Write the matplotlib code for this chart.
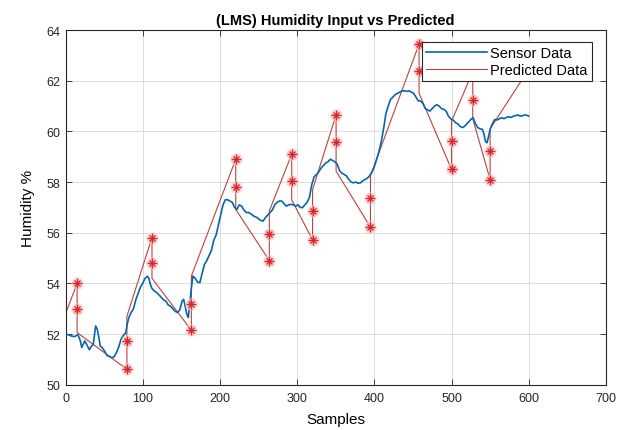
import numpy as np
import matplotlib
matplotlib.use("Agg")
import matplotlib.pyplot as plt

# sensor trace (sample index, humidity %)
sensor_x = [0, 4, 8, 12, 16, 19, 21, 23, 25, 28, 31, 33, 36, 38, 39, 41, 43, 45, 48, 51,
            54, 57, 60, 63, 66, 69, 72, 75, 78, 80, 82, 85, 88, 91, 94, 97, 100, 103, 106, 108,
            110, 112, 115, 118, 121, 124, 127, 130, 133, 136, 139, 142, 145, 148, 151, 153, 155, 157, 159, 161,
            163, 165, 168, 171, 174, 177, 180, 183, 186, 189, 192, 195, 198, 201, 204, 207, 210, 213, 216, 219,
            222, 225, 228, 231, 234, 237, 240, 244, 248, 252, 256, 259, 262, 265, 268, 271, 274, 277, 280, 283,
            286, 289, 292, 295, 298, 301, 304, 307, 310, 313, 316, 319, 322, 325, 328, 331, 334, 337, 340, 343,
            346, 349, 352, 355, 358, 361, 364, 367, 370, 373, 376, 379, 382, 385, 388, 391, 394, 397, 400, 403,
            406, 409, 412, 415, 418, 421, 424, 427, 430, 433, 436, 439, 442, 445, 448, 451, 454, 457, 460, 463,
            466, 469, 472, 475, 478, 481, 484, 487, 490, 493, 496, 499, 502, 505, 508, 511, 514, 517, 520, 523,
            526, 528, 531, 534, 537, 540, 542, 544, 546, 548, 550, 553, 556, 559, 562, 565, 568, 571, 574, 577,
            580, 583, 586, 589, 592, 595, 598, 600]
sensor_y = [52.0, 51.97, 51.92, 51.9, 51.98, 51.75, 51.47, 51.6, 51.73, 51.55, 51.38, 51.5, 51.6, 52.1, 52.32, 52.2, 51.9, 51.53, 51.45, 51.3,
            51.15, 51.12, 51.07, 51.1, 51.27, 51.5, 51.8, 51.95, 52.05, 52.4, 52.65, 52.85, 53.0, 53.35, 53.6, 53.85, 54.0, 54.2, 54.28, 54.2,
            53.95, 53.8, 53.7, 53.64, 53.55, 53.45, 53.35, 53.3, 53.15, 53.1, 53.0, 52.9, 52.85, 52.95, 53.3, 53.37, 53.1, 52.8, 52.65, 53.2,
            53.8, 54.29, 54.2, 54.05, 54.03, 54.4, 54.75, 54.9, 55.1, 55.3, 55.7, 55.9, 56.3, 56.7, 57.1, 57.3, 57.3, 57.25, 57.2, 57.0,
            56.92, 57.1, 57.05, 56.9, 56.8, 56.8, 56.75, 56.65, 56.6, 56.5, 56.46, 56.6, 56.7, 56.8, 56.9, 57.1, 57.2, 57.25, 57.25, 57.15,
            57.05, 57.1, 57.12, 57.1, 57.05, 57.1, 57.0, 56.99, 57.1, 57.2, 57.4, 57.9, 58.2, 58.3, 58.4, 58.55, 58.65, 58.75, 58.8, 58.9,
            58.85, 58.8, 58.7, 58.45, 58.35, 58.3, 58.24, 58.1, 58.0, 57.97, 58.0, 57.95, 57.97, 58.05, 58.1, 58.15, 58.25, 58.4, 58.6, 58.9,
            59.2, 59.6, 60.1, 60.7, 61.0, 61.26, 61.35, 61.45, 61.5, 61.55, 61.6, 61.6, 61.58, 61.6, 61.55, 61.5, 61.35, 61.2, 61.2, 61.1,
            60.9, 60.85, 60.8, 60.9, 61.0, 61.05, 61.0, 60.9, 60.87, 60.8, 60.6, 60.5, 60.45, 60.35, 60.3, 60.2, 60.15, 60.2, 60.3, 60.4,
            60.5, 60.54, 60.3, 60.15, 60.1, 60.08, 59.9, 59.6, 59.55, 59.8, 60.08, 60.3, 60.47, 60.45, 60.5, 60.54, 60.5, 60.55, 60.58, 60.55,
            60.6, 60.62, 60.65, 60.6, 60.62, 60.65, 60.63, 60.6]

# predicted (LMS) trace: at each block edge -> extreme, star, restart
pred_x = [0, 15, 15, 15, 79.5, 79.5, 79.5, 112, 112, 112, 163, 163, 163,
          220.5, 220.5, 220.5, 264, 264, 264, 293, 293, 293, 320, 320, 320,
          350.5, 350.5, 350.5, 395, 395, 395, 458, 458, 458, 500, 500, 500,
          527.5, 527.5, 527.5, 550, 550, 550, 600]
pred_y = [52.8, 54.0, 52.98, 52.06, 50.61, 51.73, 52.7, 55.81, 54.82, 54.2, 52.15, 53.2, 54.29,
          58.9, 57.8, 56.92, 54.9, 55.94, 56.86, 59.1, 58.05, 57.3, 55.72, 56.86, 57.7,
          60.65, 59.57, 58.43, 56.22, 57.37, 58.25, 63.45, 62.4, 61.5, 58.5, 59.63, 60.4,
          62.35, 61.22, 60.5, 58.1, 59.22, 60.1, 62.45]

plt.rcParams['font.family'] = ['Liberation Sans', 'DejaVu Sans']

fig = plt.figure(figsize=(6.24, 4.31), dpi=100)
ax = fig.add_axes([0.105, 0.105, 0.866, 0.823])

ax.plot(sensor_x, sensor_y, color='#0a64aa', lw=1.2, label='Sensor Data', zorder=3)
ax.plot(pred_x, pred_y, color='#B8453A', lw=0.8, label='Predicted Data', zorder=2)

# asterisks on extreme and middle points of each block
star_idx = [i for i in range(1, len(pred_x) - 1) if i % 3 != 0]
sx = [pred_x[i] for i in star_idx]
sy = [pred_y[i] for i in star_idx]
ax.plot(sx, sy, ls='none', marker='o', ms=9, mfc='#f7c9c9', mec='none', alpha=0.7, zorder=3.5)
for m in ['+', 'x']:
    ax.plot(sx, sy, ls='none', marker=m, ms=6.5 if m == '+' else 5, mec='#d8262a', mew=1.0, zorder=4)

ax.set_xlim(0, 700)
ax.set_ylim(50, 64)
ax.set_xticks(range(0, 701, 100))
ax.set_yticks(range(50, 65, 2))
ax.tick_params(direction='in', length=4, width=0.6, labelsize=9, colors='#262626',
               top=True, right=True, pad=4)
ax.tick_params(axis='x', pad=5)
for s in ax.spines.values():
    s.set_color('#262626')
    s.set_linewidth(0.8)
ax.grid(True, color='#dcdcdc', lw=0.7)
ax.set_axisbelow(True)

ax.set_title('(LMS) Humidity Input vs Predicted', fontsize=10.5, fontweight='bold', pad=4)
ax.set_xlabel('Samples', fontsize=11, labelpad=6)
ax.set_ylabel('Humidity %', fontsize=11, labelpad=8)

leg = ax.legend(loc='upper right', bbox_to_anchor=(0.974, 0.966), fontsize=10.5,
                fancybox=False, framealpha=1, edgecolor='#262626', handlelength=4.2,
                borderpad=0.3, labelspacing=0.15, handletextpad=0.2, borderaxespad=0)
leg.get_frame().set_linewidth(0.8)
leg.set_zorder(10)

fig.savefig('out.png', dpi=100)
